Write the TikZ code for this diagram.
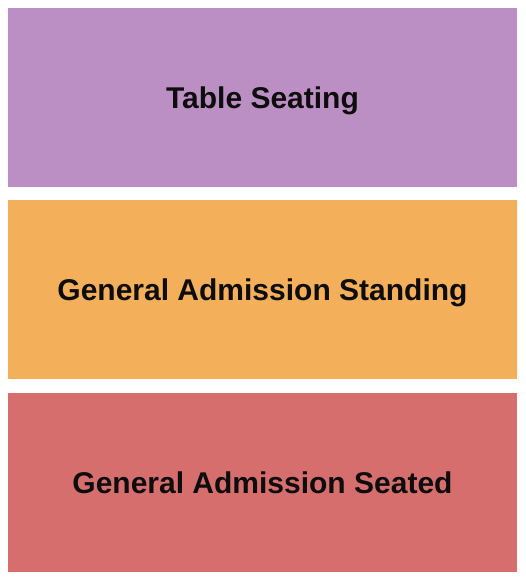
\documentclass[tikz,border=0pt]{standalone}
\usepackage{fontspec}
\setmainfont{Liberation Sans}
\definecolor{tablec}{RGB}{188,143,196}
\definecolor{standc}{RGB}{243,175,90}
\definecolor{seatc}{RGB}{215,110,110}
\tikzset{
  section/.style={draw=none, minimum width=509pt, minimum height=179pt, inner sep=0pt, text depth=0pt, font=\bfseries\fontsize{30}{32}\selectfont, text=black!95},
}
\begin{document}
\begin{tikzpicture}[x=1pt,y=1pt]
\useasboundingbox (0,0) rectangle (525,580);
\node[section, fill=tablec] (table) at (262.5,482.5) {Table Seating};
\node[section, fill=standc] (stand) at (262.5,290) {General Admission Standing};
\node[section, fill=seatc] (seated) at (262.5,97.5) {General Admission Seated};
\end{tikzpicture}
\end{document}
